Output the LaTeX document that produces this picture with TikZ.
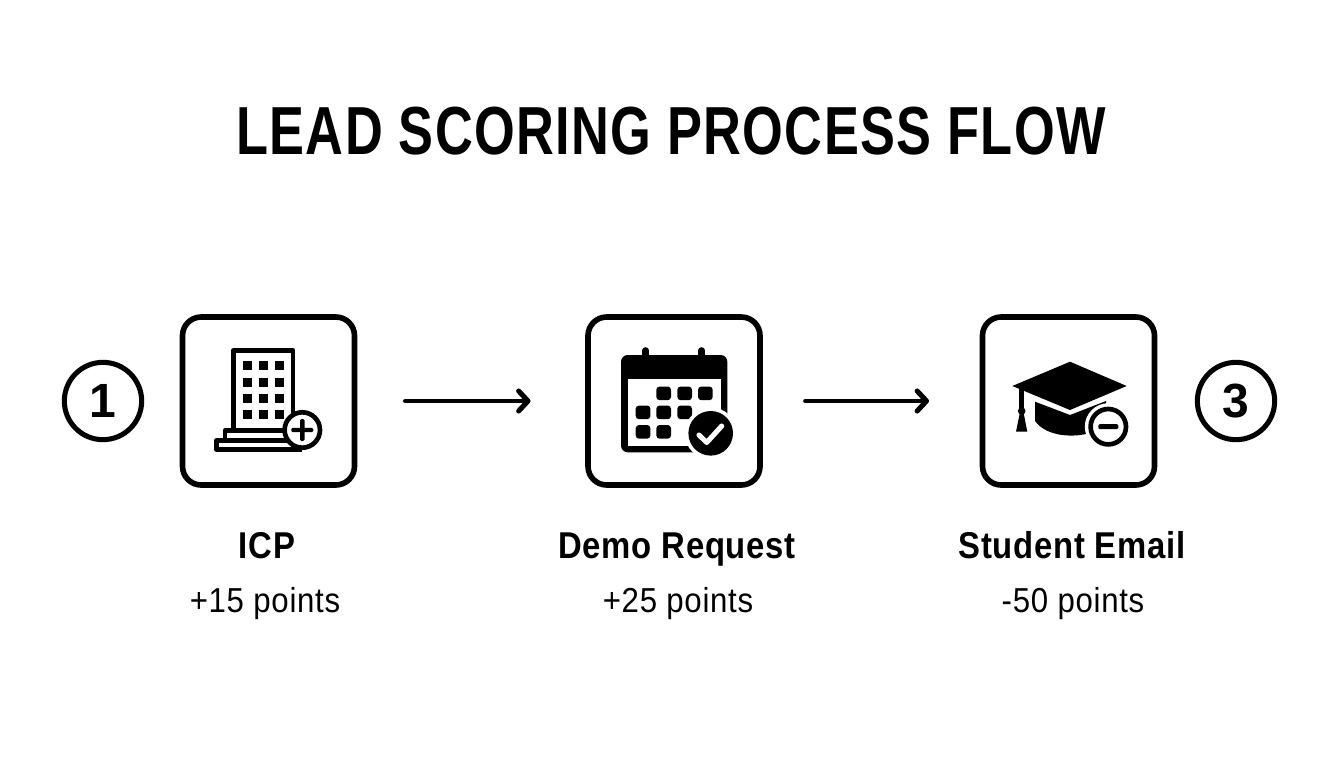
\documentclass[tikz,border=0pt]{standalone}
\usepackage{fontspec}
\setmainfont{Liberation Sans}
\newfontfamily\titlefam[FakeStretch=0.77,LetterSpace=2]{Liberation Sans}
\newfontfamily\headfam[FakeStretch=0.88,LetterSpace=2]{Liberation Sans}
\newfontfamily\subfam[FakeStretch=0.90,LetterSpace=2]{Liberation Sans}
\usetikzlibrary{arrows.meta}
\tikzset{
  x=0.75pt,y=-0.75pt,
  card/.style={draw=black,line width=4.2pt,rounded corners=14pt,fill=white,minimum width=129pt,minimum height=126pt,inner sep=0pt},
  titletext/.style={font=\titlefam\fontsize{51}{56}\selectfont\bfseries,text=black,inner sep=0pt,anchor=center},
  headtext/.style={font=\headfam\fontsize{28}{34}\selectfont\bfseries,text=black,inner sep=0pt,anchor=base},
  subtext/.style={font=\subfam\fontsize{26}{30}\selectfont,text=black,inner sep=0pt,anchor=base},
  numcirc/.style={circle,draw=black,line width=3.8pt,minimum size=58pt,inner sep=0pt,font=\fontsize{36}{40}\selectfont\bfseries},
  flow/.style={draw=black,line width=3.5pt,line cap=round,-{Straight Barb[round,length=7pt,width=15pt,line width=3.8pt]}},
}
\begin{document}
\begin{tikzpicture}
\useasboundingbox (0,0) rectangle (1344,768);
\fill[white] (0,0) rectangle (1344,768);
\node[titletext] (title) at (671,131) {LEAD SCORING PROCESS FLOW};

% cards
\node[card] (c1) at (268.5,401) {};
\node[card] (c2) at (674,401) {};
\node[card] (c3) at (1068.5,401) {};

% number circles
\node[numcirc] (n1) at (103,401) {1};
\node[numcirc] (n3) at (1236,401) {3};

% arrows
\draw[flow,shorten <=36pt,shorten >=41pt] (c1) -- (c2);
\draw[flow,shorten <=32pt,shorten >=38pt] (c2) -- (c3);

% building icon
\draw[black,line width=3.6pt,line join=round] (233.3,429) -- (233.3,350.6) -- (293,350.6) -- (293,429);
\foreach \xx in {243.3,259,274.7}{\foreach \yy in {361,377.5,393.5,410}{
  \fill[black] (\xx,\yy) rectangle +(9,9);}}
\draw[black,line width=3.7pt,line join=round] (302,430.8) -- (225,430.8) -- (225,440.5);
\draw[black,line width=3.7pt,line join=round] (302,440.6) -- (216.6,440.6) -- (216.6,449.4) -- (302,449.4);
\draw[black,fill=white,line width=3.5pt] (302.3,430) circle (17.7);
\fill[black,rounded corners=1pt] (291.3,427.8) rectangle (313.3,432.2);
\fill[black,rounded corners=1pt] (300.1,419) rectangle (304.5,441);

% calendar icon
\fill[black,rounded corners=5pt] (621,355) rectangle (727.3,452.3);
\fill[white] (627.5,379) rectangle (720.8,445.8);
\draw[black,line width=5pt,line cap=round] (645.7,350.5) -- (645.7,358);
\draw[black,line width=5pt,line cap=round] (701.7,350.5) -- (701.7,358);
\foreach \xx/\yy in {656.3/386.5,677.3/386.5,698/386.5,635.7/405.5,656.3/405.5,677.3/405.5,635.7/425,656.3/425}{
  \fill[black,rounded corners=2.5pt] (\xx,\yy) rectangle +(14.7,13.7);}
\fill[white] (710.7,433.3) circle (26);
\fill[black] (710.7,433.3) circle (22.3);
\draw[white,line width=3.8pt,line cap=round,line join=round] (699,435) -- (706.7,442.5) -- (721.7,426);

% cap icon
\fill[black] (1035,401.7) -- (1070,415) -- (1106,401) -- (1106,425) -- (1090,433) .. controls (1075,437.5) and (1047,437.5) .. (1035,421) -- cycle;
\fill[black] (1012.3,386) -- (1070,361.7) -- (1126.7,386) -- (1070,410) -- cycle;
\fill[black] (1019.3,388) rectangle (1024,410);
\fill[black] (1021.7,411) circle (3.8);
\fill[black] (1016,431.7) -- (1019.8,413) -- (1023.6,413) -- (1027.3,431.7) -- cycle;
\fill[white] (1108.3,426.7) circle (23.5);
\draw[black,fill=white,line width=3.5pt] (1108.3,426.7) circle (17.7);
\fill[black,rounded corners=1pt] (1098.3,424.2) rectangle (1118.3,429.2);

% labels
\node[headtext] (l1) at (267,558) {ICP};
\node[subtext] (s1) at (265,612) {+15 points};
\node[headtext] (l2) at (677,558) {Demo Request};
\node[subtext] (s2) at (678,612) {+25 points};
\node[headtext] (l3) at (1072,558) {Student Email};
\node[subtext] (s3) at (1073,612) {-50 points};
\end{tikzpicture}
\end{document}
